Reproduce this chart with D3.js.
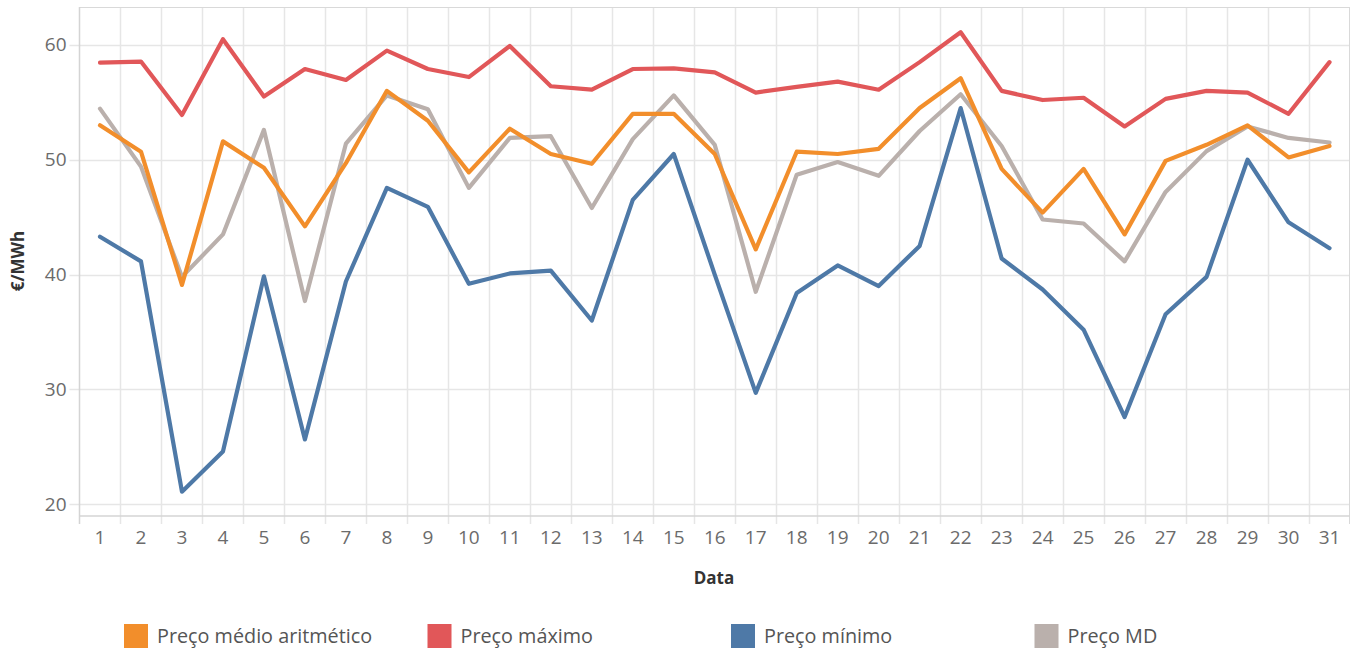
<!DOCTYPE html>
<html>
<head>
  <script src="https://d3js.org/d3.v7.min.js"></script>
  <style>
    body { margin: 0; background: #fff; }
    text { font-family: "Open Sans", sans-serif; }
  </style>
</head>
<body>
  <svg id="chart"></svg>
  <script>
    var days = d3.range(1, 32).map(String);
    var seriesNames = ["Preço médio aritmético", "Preço máximo", "Preço mínimo", "Preço MD"];
    var seriesColors = ["#F28E2B", "#E15759", "#4E79A7", "#BAB0AC"];
    var yTicks = [20, 30, 40, 50, 60];

    var precoMedio = [53.0, 50.7, 39.1, 51.6, 49.3, 44.2, 49.7, 56.0, 53.4, 48.9,
                      52.7, 50.5, 49.65, 54.0, 54.0, 50.5, 42.2, 50.7, 50.5, 50.95,
                      54.5, 57.1, 49.2, 45.4, 49.2, 43.5, 49.9, 51.3, 53.0, 50.2, 51.2];
    var precoMaximo = [58.45, 58.55, 53.9, 60.5, 55.5, 57.9, 56.95, 59.5, 57.9, 57.2,
                       59.9, 56.4, 56.1, 57.9, 57.95, 57.6, 55.85, 56.35, 56.8, 56.1,
                       58.5, 61.1, 56.0, 55.2, 55.4, 52.9, 55.3, 56.0, 55.85, 54.0, 58.5];
    var precoMinimo = [43.3, 41.15, 21.1, 24.6, 39.85, 25.65, 39.4, 47.55, 45.9, 39.2,
                       40.1, 40.35, 36.0, 46.5, 50.5, 40.0, 29.7, 38.4, 40.8, 39.0,
                       42.5, 54.5, 41.4, 38.7, 35.2, 27.6, 36.55, 39.8, 50.0, 44.55, 42.3];
    var precoMD = [54.45, 49.4, 39.8, 43.5, 52.6, 37.7, 51.4, 55.6, 54.4, 47.55,
                   51.9, 52.05, 45.8, 51.8, 55.6, 51.3, 38.5, 48.7, 49.8, 48.6,
                   52.5, 55.7, 51.2, 44.8, 44.45, 41.15, 47.2, 50.75, 52.9, 51.9, 51.5];
    var seriesValues = [precoMedio, precoMaximo, precoMinimo, precoMD];

    var width = 1358, height = 652;
    var plotLeft = 79.5, plotRight = 1350, plotTop = 7, plotBottom = 516;

    var svg = d3.select("#chart").attr("width", width).attr("height", height);

    var x = d3.scaleBand().domain(days).range([plotLeft, plotRight]);
    var y = d3.scaleLinear().domain([18.98, 63.3]).range([plotBottom, plotTop]);

    // grid
    var grid = svg.append("g");
    grid.selectAll(".hg").data(yTicks).enter().append("line")
        .attr("x1", plotLeft - 10).attr("x2", plotRight)
        .attr("y1", function(d) { return Math.round(y(d)) + 0.5; })
        .attr("y2", function(d) { return Math.round(y(d)) + 0.5; })
        .attr("stroke", "#e6e6e6").attr("stroke-width", 1.5);
    grid.selectAll(".vg").data(days.slice(1)).enter().append("line")
        .attr("x1", function(d) { return Math.round(x(d)) + 0.5; })
        .attr("x2", function(d) { return Math.round(x(d)) + 0.5; })
        .attr("y1", plotTop).attr("y2", plotBottom + 8)
        .attr("stroke", "#e6e6e6").attr("stroke-width", 1.5);

    // frame
    svg.append("line").attr("x1", plotLeft).attr("x2", plotRight)
        .attr("y1", plotTop + 0.5).attr("y2", plotTop + 0.5).attr("stroke", "#d9d9d9");
    svg.append("line").attr("x1", plotRight - 0.5).attr("x2", plotRight - 0.5)
        .attr("y1", plotTop).attr("y2", plotBottom + 8).attr("stroke", "#d9d9d9");
    svg.append("line").attr("x1", plotLeft).attr("x2", plotLeft)
        .attr("y1", plotTop).attr("y2", plotBottom + 8)
        .attr("stroke", "#d4d4d4").attr("stroke-width", 1.5);
    svg.append("line").attr("x1", plotLeft).attr("x2", plotRight)
        .attr("y1", plotBottom).attr("y2", plotBottom)
        .attr("stroke", "#d4d4d4").attr("stroke-width", 1.5);

    // axes labels
    var yAxis = d3.axisLeft(y).tickValues(yTicks).tickSize(0).tickPadding(13);
    var gy = svg.append("g").attr("transform", "translate(" + plotLeft + ",0)").call(yAxis);
    gy.select(".domain").remove();
    gy.selectAll("text").attr("font-size", 19).attr("fill", "#6b6b6b")
        .style("font-family", "'Open Sans', sans-serif");

    var xAxis = d3.axisBottom(x).tickSize(0).tickPadding(15);
    var gx = svg.append("g").attr("transform", "translate(0," + plotBottom + ")").call(xAxis);
    gx.select(".domain").remove();
    gx.selectAll("text").attr("font-size", 19).attr("fill", "#6b6b6b")
        .style("font-family", "'Open Sans', sans-serif");

    svg.append("text").attr("x", 714).attr("y", 584).attr("text-anchor", "middle")
        .attr("font-size", 17).attr("font-weight", "bold").attr("fill", "#333")
        .text("Data");
    svg.append("text").attr("transform", "translate(24,261) rotate(-90)").attr("text-anchor", "middle")
        .attr("font-size", 17).attr("font-weight", "bold").attr("fill", "#333")
        .text("€/MWh");

    // lines
    var line = d3.line()
        .x(function(d, i) { return x(days[i]) + x.bandwidth() / 2; })
        .y(function(d) { return y(d); });

    var drawOrder = [3, 2, 1, 0];
    drawOrder.forEach(function(k) {
      svg.append("path")
        .datum(seriesValues[k])
        .attr("d", line)
        .attr("fill", "none")
        .attr("stroke", seriesColors[k])
        .attr("stroke-width", 4.2)
        .attr("stroke-linejoin", "round")
        .attr("stroke-linecap", "round");
    });

    // legend
    var legend = svg.append("g");
    var items = legend.selectAll("g").data(seriesNames).enter().append("g")
        .attr("transform", function(d, i) { return "translate(" + (124 + i * 303.5) + ",624)"; });
    items.append("rect").attr("width", 24).attr("height", 24)
        .attr("fill", function(d, i) { return seriesColors[i]; });
    items.append("text").attr("x", 33).attr("y", 19)
        .attr("font-size", 19.8).attr("fill", "#555")
        .text(function(d) { return d; });
  </script>
</body>
</html>
